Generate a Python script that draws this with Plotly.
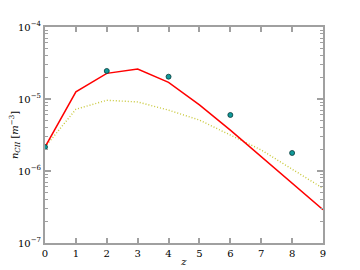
import plotly.graph_objects as go

z = [0, 1, 2, 3, 4, 5, 6, 7, 8, 9]
n_red = [2.15e-6, 1.26e-5, 2.27e-5, 2.6e-5, 1.7e-5, 8.3e-6, 3.7e-6, 1.58e-6, 6.7e-7, 2.9e-7]
n_yellow = [2.15e-6, 7.2e-6, 9.6e-6, 9.1e-6, 7.0e-6, 5.1e-6, 3.16e-6, 1.96e-6, 1.06e-6, 5.75e-7]
z_obs = [0, 2, 4, 6, 8]
n_obs = [2.15e-6, 2.45e-5, 2.04e-5, 6.0e-6, 1.78e-6]
x_ticks = [0, 1, 2, 3, 4, 5, 6, 7, 8, 9]
y_tickvals = [1e-7, 1e-6, 1e-5, 1e-4]
y_ticktext = ["10<sup>−7</sup>", "10<sup>−6</sup>", "10<sup>−5</sup>", "10<sup>−4</sup>"]

axcol = "#a0a0a0"
font = dict(family="DejaVu Serif", size=10, color="black")

fig = go.Figure()
fig.add_trace(go.Scatter(x=z, y=n_yellow, mode="lines",
                         line=dict(color="#c8c83a", width=1.4, dash="1px,2px")))
fig.add_trace(go.Scatter(x=z, y=n_red, mode="lines",
                         line=dict(color="#ff0000", width=1.5)))
fig.add_trace(go.Scatter(x=z_obs, y=n_obs, mode="markers",
                         marker=dict(color="#109a9a", size=5,
                                     line=dict(color="#0a3a3a", width=0.8))))

fig.update_layout(
    width=352, height=262,
    margin=dict(l=37, r=37, t=19, b=27),
    paper_bgcolor="white", plot_bgcolor="white",
    showlegend=False, font=font,
)
fig.update_xaxes(
    range=[0, 9], tickvals=x_ticks, ticks="inside", ticklen=5,
    tickcolor=axcol, tickwidth=1.5, showgrid=False, zeroline=False,
    showline=True, linecolor=axcol, linewidth=2, mirror="ticks",
    title=dict(text="<i>z</i>", standoff=0, font=font),
    tickfont=font, automargin=False,
)
fig.update_yaxes(
    type="log", range=[-7, -4], tickvals=y_tickvals, ticktext=y_ticktext,
    ticks="inside", ticklen=6, tickcolor=axcol, tickwidth=1.5,
    showgrid=False, zeroline=False,
    showline=True, linecolor=axcol, linewidth=2, mirror="ticks",
    minor=dict(ticks="inside", ticklen=3, tickcolor=axcol, tickwidth=1,
               dtick="D1", showgrid=False),
    title=dict(text="<i>n</i><sub><i>CII</i></sub> [<i>m</i><sup>−3</sup>]",
               standoff=2, font=font),
    tickfont=font, automargin=False,
)

fig.write_html("out.html")
